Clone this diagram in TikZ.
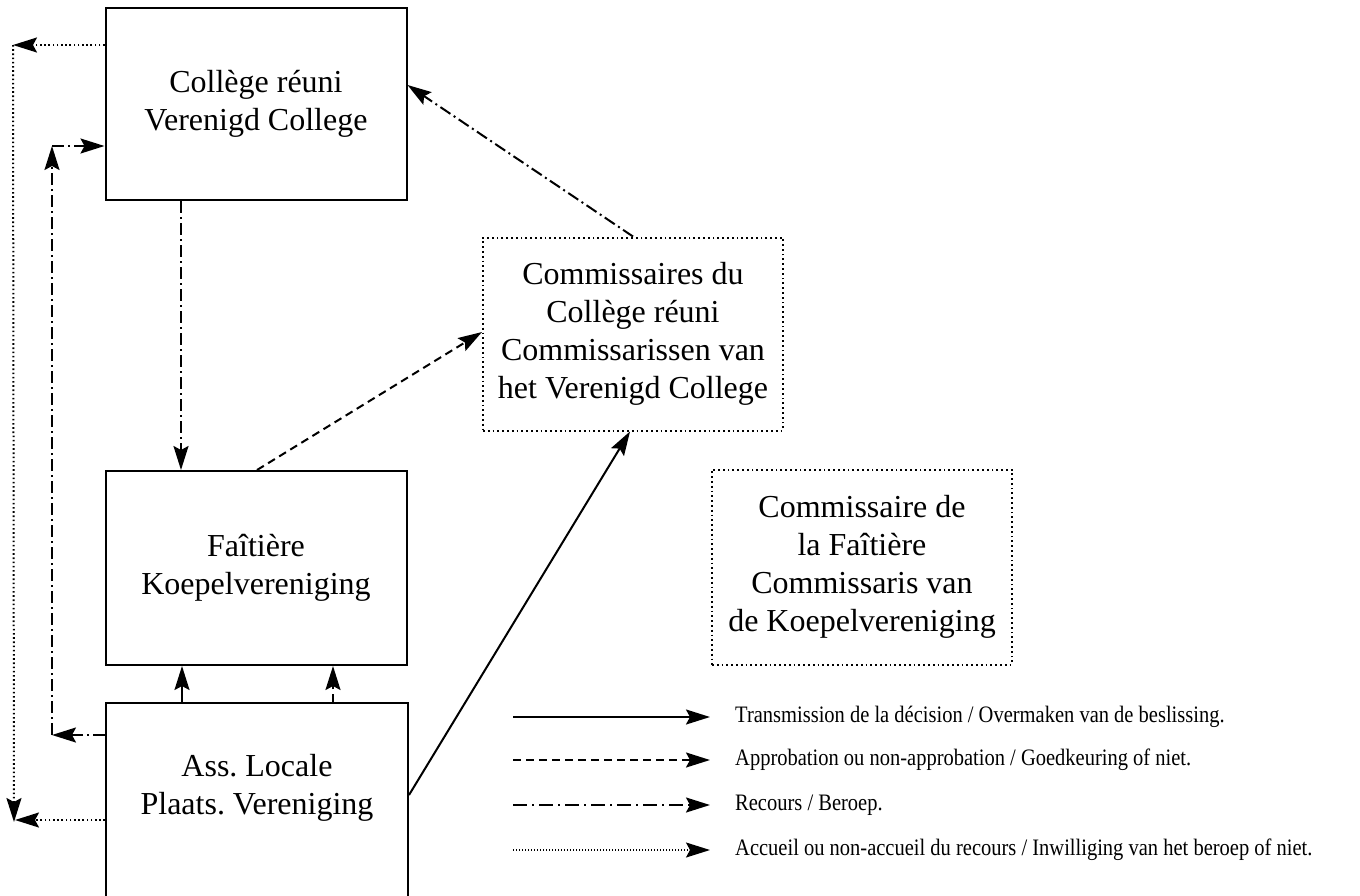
\documentclass[tikz,border=0pt]{standalone}
\usepackage{fontspec}
\setmainfont{Liberation Serif}
\usetikzlibrary{arrows.meta}
\begin{document}
\frenchspacing
\begin{tikzpicture}[x=1pt,y=-1pt,
  arr/.tip={Stealth[length=24pt,width=15pt,inset=4pt]},
  box/.style={draw,line width=2pt,align=center,inner sep=0pt,
    font=\fontsize{32}{38}\selectfont},
  dbox/.style={box,draw,line width=2pt,dash pattern=on 1.8pt off 3pt},
  trans/.style={line width=2pt,-arr},
  appr/.style={line width=2pt,-arr,dash pattern=on 8pt off 5pt},
  recr/.style={line width=2pt,-arr,dash pattern=on 12pt off 4pt on 2pt off 4pt},
  accu/.style={line width=2pt,-arr,dash pattern=on 1.6pt off 2.6pt},
  legtext/.style={anchor=west,inner sep=0pt,font=\fontsize{20.5}{24}\selectfont}]
\useasboundingbox (0,0) rectangle (1360,895);
\clip (0,0) rectangle (1360,895);

% boxes
\node[box,minimum width=301pt,minimum height=192pt] (coll) at (256,104)
  {Collège réuni\\Verenigd College};
\node[box,minimum width=301pt,minimum height=194pt] (fait) at (256,568)
  {Faîtière\\Koepelvereniging};
\node[box,minimum width=302pt,minimum height=210pt] (ass) at (257,808) {};
\node[align=center,inner sep=0pt,font=\fontsize{32}{38}\selectfont] (asst) at (257,788)
  {Ass. Locale\\Plaats. Vereniging};
\node[dbox,minimum width=300pt,minimum height=193pt] (comc) at (633,334)
  {Commissaires du\\Collège réuni\\Commissarissen van\\het Verenigd College};
\node[dbox,minimum width=300pt,minimum height=195pt] (comf) at (862,567)
  {Commissaire de\\la Faîtière\\Commissaris van\\de Koepelvereniging};

% helper coordinates
\coordinate (tl) at (13,45);
\coordinate (bl) at (14,822);
\coordinate (ml) at (52,146);
\coordinate (mb) at (52,735);
\coordinate (cx1) at (181,0);
\coordinate (ax1) at (182,0);
\coordinate (ax2) at (333,0);

% accueil (dotted)
\draw[accu] (coll.west |- tl) -- (tl);
\draw[accu] (tl) -- (bl);
\draw[accu] (ass.west |- 0,820) -- (15,820);

% recours (dash-dot)
\draw[recr] (ass.west |- mb) -- (mb);
\draw[recr] (mb) -- (ml);
\draw[recr] (ml) -- (coll.west |- ml);
\draw[recr] (coll.south -| cx1) -- (fait.north -| cx1);
\draw[recr] (comc.north) -- ([yshift=19pt]coll.east);

% approbation (dashed)
\draw[appr] ([xshift=1pt]fait.north) -- ([yshift=2pt]comc.west);
\draw[appr] (ass.north -| ax2) -- (fait.south -| ax2);

% transmission (solid)
\draw[trans] (ass.east |- 0,795) -- ([xshift=-3pt]comc.south);
\draw[trans] (ass.north -| ax1) -- (fait.south -| ax1);

% legend
\coordinate (l1a) at (513,717); \coordinate (l1b) at (710,717);
\coordinate (l2a) at (513,760); \coordinate (l2b) at (710,760);
\coordinate (l3a) at (513,805); \coordinate (l3b) at (710,805);
\coordinate (l4a) at (513,850); \coordinate (l4b) at (710,850);
\draw[trans] (l1a) -- (l1b);
\draw[appr] (l2a) -- (l2b);
\draw[recr,dash pattern=on 14pt off 5pt on 2pt off 5pt] (l3a) -- (l3b);
\draw[accu,line width=1.4pt,dash pattern=on 1pt off 2pt] (l4a) -- (l4b);
\node[legtext] (t1) at (735,717) {\scalebox{1}[1.15]{Transmission de la décision / Overmaken van de beslissing.}};
\node[legtext] (t2) at (735,760) {\scalebox{1}[1.15]{Approbation ou non-approbation / Goedkeuring of niet.}};
\node[legtext] (t3) at (735,805) {\scalebox{1}[1.15]{Recours / Beroep.}};
\node[legtext] (t4) at (735,850) {\scalebox{1}[1.15]{Accueil ou non-accueil du recours / Inwilliging van het beroep of niet.}};
\end{tikzpicture}
\end{document}
